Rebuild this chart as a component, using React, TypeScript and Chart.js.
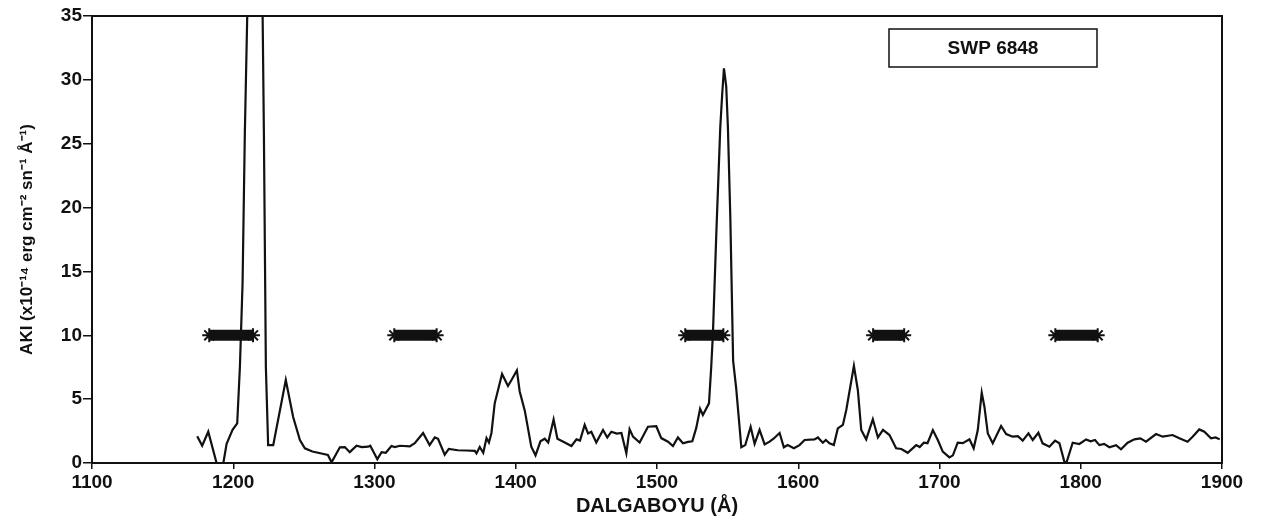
import React, { useEffect, useRef } from "react";
import { Chart, registerables } from "chart.js";

Chart.register(...registerables);

// IUE SWP spectrum: wavelength (Å) and flux (×10⁻¹⁴ erg cm⁻² s⁻¹ Å⁻¹)
const wavelength = [
  1174.5, 1178, 1182.3, 1188.2, 1193, 1195.3, 1199.5, 1202.8, 1204.7, 1206.6,
  1208.2, 1209.9, 1212, 1216, 1219.5, 1220.8, 1221.7, 1223.1, 1224.7, 1228.3,
  1237.2, 1242.4, 1247.2, 1250.7, 1256, 1260, 1267, 1269.6, 1275.5, 1279,
  1282.5, 1287.3, 1291, 1295.5, 1297, 1302, 1305, 1308, 1312, 1314.4,
  1318, 1325, 1328.5, 1334.4, 1339, 1342.7, 1345, 1349.7, 1352.6, 1359,
  1365, 1371, 1372.2, 1374.5, 1377, 1379.3, 1381, 1382.8, 1385.1, 1390.3,
  1394.5, 1397, 1400.8, 1402.8, 1406.4, 1411, 1414, 1417.5, 1420.5, 1423,
  1426.8, 1429.5, 1434.7, 1439.4, 1443, 1445.5, 1448.8, 1451.2, 1453.5, 1457,
  1461.8, 1464.8, 1467.7, 1471.5, 1474.8, 1478.3, 1480.6, 1483, 1487.7, 1493.6,
  1499.5, 1503, 1507.8, 1511.3, 1514.8, 1518.4, 1522, 1525, 1527.8, 1530.5,
  1532.5, 1536.8, 1538.4, 1539.6, 1542, 1544.8, 1546.2, 1547.4, 1549, 1550.2,
  1551.9, 1553.9, 1556.1, 1559.7, 1562.5, 1566.3, 1569.1, 1572.6, 1576.2, 1579.7,
  1582.5, 1586.8, 1589.8, 1592.5, 1596.9, 1600.9, 1604.5, 1611.5, 1613.9, 1617.4,
  1619.5, 1622.1, 1625.2, 1628, 1631.6, 1634, 1639.4, 1642.2, 1644.6, 1648.1,
  1652.8, 1656.4, 1660, 1664.6, 1669.3, 1673, 1677.5, 1683.5, 1686, 1688.9,
  1691.5, 1695.3, 1698.8, 1702.3, 1707, 1709.5, 1712.9, 1716.5, 1721.2, 1724.2,
  1727.1, 1729.9, 1731.8, 1734.2, 1737.7, 1743.6, 1747.2, 1751.8, 1755.5, 1758.9,
  1763, 1766, 1770, 1773, 1777.8, 1781.8, 1784.9, 1788.4, 1789.8, 1794.3,
  1799, 1803.8, 1807, 1810.1, 1813.2, 1816.5, 1820.3, 1825, 1828.5, 1833.2,
  1838, 1842.2, 1846.2, 1853.3, 1858, 1865, 1869.8, 1875.6, 1879.2, 1883.9,
  1887.5, 1892.2, 1895.5, 1898.4,
];

const flux = [
  2.1, 1.35, 2.45, 0.0, 0.0, 1.5, 2.6, 3.1, 7.5, 14.1,
  25.8, 35, 46, 52, 46, 35, 25.8, 7.5, 1.4, 1.4,
  6.5, 3.6, 1.8, 1.15, 0.9, 0.8, 0.63, 0.05, 1.23, 1.25,
  0.85, 1.35, 1.25, 1.28, 1.35, 0.3, 0.85, 0.8, 1.33, 1.25,
  1.35, 1.3, 1.55, 2.35, 1.4, 2.0, 1.9, 0.65, 1.1, 1.0,
  0.98, 0.95, 0.75, 1.25, 0.8, 1.95, 1.6, 2.35, 4.67, 6.97,
  6.03, 6.5, 7.25, 5.6, 4.1, 1.28, 0.6, 1.7, 1.9, 1.6,
  3.4, 1.9, 1.6, 1.33, 1.85, 1.75, 2.98, 2.32, 2.45, 1.6,
  2.58, 2.0, 2.45, 2.3, 2.35, 0.76, 2.65, 2.06, 1.6, 2.84,
  2.88, 1.95, 1.67, 1.33, 2.0, 1.54, 1.65, 1.7, 2.75, 4.25,
  3.76, 4.67, 7.54, 10.15, 17.98, 26.3, 28.95, 30.9, 29.5, 26.3,
  19.3, 8.0, 5.8, 1.23, 1.4, 2.84, 1.5, 2.6, 1.45, 1.67,
  1.9, 2.35, 1.23, 1.4, 1.15, 1.4, 1.8, 1.85, 2.0, 1.59,
  1.8, 1.54, 1.4, 2.71, 2.98, 4.15, 7.6, 5.7, 2.58, 1.85,
  3.42, 2.0, 2.6, 2.19, 1.15, 1.1, 0.8, 1.4, 1.25, 1.59,
  1.55, 2.58, 1.8, 0.89, 0.44, 0.6, 1.59, 1.55, 1.85, 1.15,
  2.58, 5.5, 4.41, 2.32, 1.54, 2.9, 2.27, 2.06, 2.1, 1.75,
  2.32, 1.8, 2.37, 1.54, 1.28, 1.75, 1.54, 0.1, 0.0, 1.59,
  1.49, 1.85, 1.7, 1.8, 1.4, 1.5, 1.23, 1.4, 1.07, 1.59,
  1.85, 1.93, 1.67, 2.27, 2.06, 2.19, 1.93, 1.67, 2.06, 2.63,
  2.45, 1.93, 2.0, 1.85,
];

// Wavelength windows marked at a fixed level (asterisk bands)
const maskStart = [1183, 1314, 1520, 1653, 1782];
const maskEnd = [1214, 1344, 1547, 1675, 1812];
const maskLevel = 10;

const xTicks = [1100, 1200, 1300, 1400, 1500, 1600, 1700, 1800, 1900];
const yTicks = [0, 5, 10, 15, 20, 25, 30, 35];

const spectrumLabel = "SWP 6848";
const xTitle = "DALGABOYU (Å)";
const yTitle = "AKI (x10⁻¹⁴ erg cm⁻² sn⁻¹ Å⁻¹)";

const FONT = "'Liberation Sans', Arial, Helvetica, sans-serif";
const INK = "#111";

const framePlugin = {
  id: "frameAndLabel",
  afterDraw(chart: any) {
    const { ctx, chartArea } = chart;
    const { left, top, right, bottom } = chartArea;
    ctx.save();
    ctx.strokeStyle = INK;
    ctx.lineWidth = 2;
    ctx.strokeRect(left, top, right - left, bottom - top);

    // label box in the upper right of the plot
    const boxW = 208;
    const boxH = 38;
    const boxX = right - 125 - boxW;
    const boxY = top + 13;
    ctx.lineWidth = 1.5;
    ctx.strokeRect(boxX, boxY, boxW, boxH);
    ctx.fillStyle = INK;
    ctx.font = `bold 19px ${FONT}`;
    ctx.textAlign = "center";
    ctx.textBaseline = "middle";
    ctx.fillText(spectrumLabel, boxX + boxW / 2, boxY + boxH / 2 + 1);
    ctx.restore();
  },
};

export default function App() {
  const canvasRef = useRef<HTMLCanvasElement | null>(null);

  useEffect(() => {
    const canvas = canvasRef.current;
    if (!canvas) return;

    const spectrum = wavelength.map((x, i) => ({ x, y: flux[i] }));
    const maskSets = maskStart.map((s, i) => ({
      label: `mask${i}`,
      data: [
        { x: s, y: maskLevel },
        { x: maskEnd[i], y: maskLevel },
      ],
      showLine: true,
      borderColor: INK,
      backgroundColor: INK,
      borderWidth: 11,
      pointStyle: "star",
      pointRadius: 7,
      pointBorderWidth: 2,
      pointBorderColor: INK,
      order: 2,
    }));

    const chart = new Chart(canvas, {
      type: "scatter",
      data: {
        datasets: [
          {
            label: "spectrum",
            data: spectrum,
            showLine: true,
            borderColor: INK,
            borderWidth: 2.2,
            pointRadius: 0,
            tension: 0,
            order: 1,
          },
          ...maskSets,
        ] as any,
      },
      options: {
        responsive: false,
        animation: false,
        devicePixelRatio: 1,
        layout: { padding: { left: 0, right: 43, top: 16, bottom: 0 } },
        plugins: {
          legend: { display: false },
          tooltip: { enabled: false },
        },
        scales: {
          x: {
            type: "linear",
            min: 1100,
            max: 1900,
            afterBuildTicks: (scale: any) => {
              scale.ticks = xTicks.map((v) => ({ value: v }));
            },
            afterFit: (scale: any) => {
              scale.height = 61;
            },
            grid: {
              display: true,
              drawOnChartArea: false,
              drawTicks: true,
              tickLength: 6,
              color: INK,
              lineWidth: 1.5,
            },
            border: { display: true, color: INK, width: 2 },
            ticks: {
              color: INK,
              padding: 2,
              maxRotation: 0,
              callback: (v: any) => String(v),
              font: { family: FONT, size: 19, weight: "bold" },
            },
            title: {
              display: true,
              text: xTitle,
              color: INK,
              padding: { top: 0, bottom: 6 },
              font: { family: FONT, size: 20, weight: "bold" },
            },
          },
          y: {
            type: "linear",
            min: 0,
            max: 35,
            afterBuildTicks: (scale: any) => {
              scale.ticks = yTicks.map((v) => ({ value: v }));
            },
            afterFit: (scale: any) => {
              scale.width = 92;
            },
            grid: {
              display: true,
              drawOnChartArea: false,
              drawTicks: true,
              tickLength: 9,
              color: INK,
              lineWidth: 1.5,
            },
            border: { display: true, color: INK, width: 2 },
            ticks: {
              color: INK,
              padding: 1,
              callback: (v: any) => String(v),
              font: { family: FONT, size: 19, weight: "bold" },
            },
            title: {
              display: true,
              text: yTitle,
              color: INK,
              padding: { top: 17, bottom: 0 },
              font: { family: FONT, size: 17, weight: "bold" },
            },
          },
        },
      },
      plugins: [framePlugin],
    } as any);

    return () => chart.destroy();
  }, []);

  return (
    <div style={{ position: "absolute", left: 0, top: 0, width: 1265, height: 524, background: "#fff" }}>
      <canvas ref={canvasRef} width={1265} height={524} style={{ display: "block" }} />
    </div>
  );
}
